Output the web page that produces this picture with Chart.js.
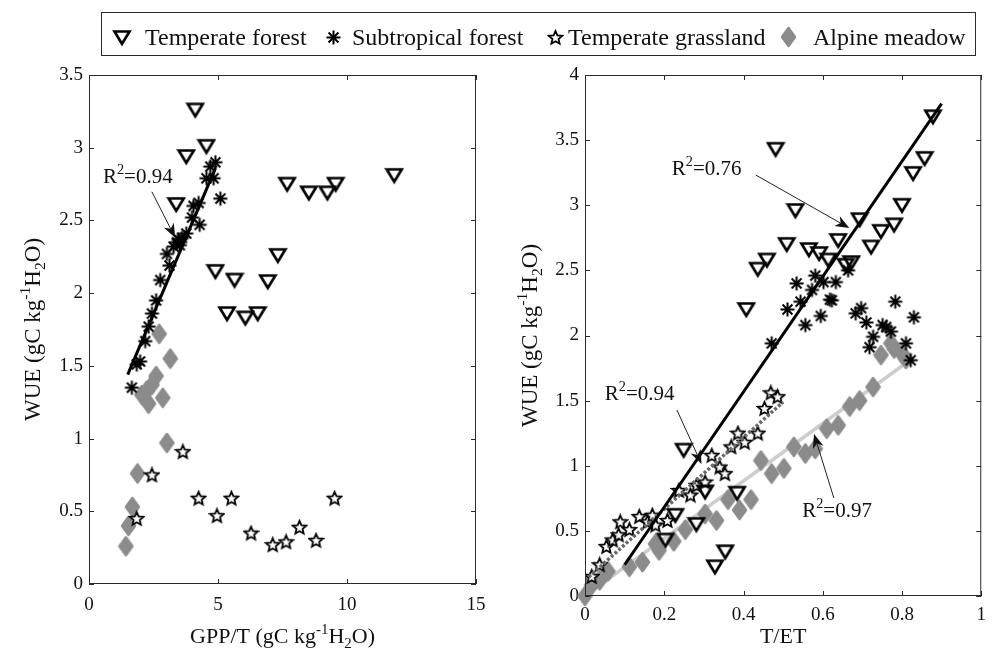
<!DOCTYPE html>
<html>
<head>
<meta charset="utf-8">
<script src="https://cdn.jsdelivr.net/npm/chart.js@4.4.1/dist/chart.umd.min.js"></script>
<style>
    html, body { margin: 0; padding: 0; background: #fff; }
    body { position: relative; width: 994px; height: 651px; overflow: hidden; }
    canvas { position: absolute; top: 0; }
    #left-panel { left: 0; }
    #right-panel { left: 500px; }
    #legend { left: 0; z-index: 2; pointer-events: none; }
</style>
</head>
<body>
<canvas id="left-panel" width="500" height="651"></canvas>
<canvas id="right-panel" width="494" height="651"></canvas>
<canvas id="legend" width="994" height="70"></canvas>
<script>
// ---- data, left panel: WUE vs GPP/T ----
const tfGppX = [4.12, 4.55, 3.77, 3.38, 7.68, 8.52, 9.24, 9.56, 11.83, 7.32, 4.90, 5.64, 6.93, 5.35, 6.06, 6.54];
const tfGppY = [3.26, 3.01, 2.94, 2.61, 2.75, 2.69, 2.69, 2.75, 2.81, 2.26, 2.15, 2.09, 2.08, 1.86, 1.83, 1.86];
const sfGppX = [1.66, 1.85, 1.98, 2.18, 2.31, 2.44, 2.60, 2.76, 3.12, 3.02, 3.28, 3.41, 3.47, 3.52, 3.60, 3.77, 4.29, 3.99, 4.05, 4.25, 4.55, 4.83, 4.70, 4.90, 5.09];
const sfGppY = [1.35, 1.51, 1.53, 1.67, 1.77, 1.86, 1.95, 2.09, 2.19, 2.27, 2.32, 2.35, 2.37, 2.33, 2.38, 2.41, 2.47, 2.52, 2.60, 2.62, 2.79, 2.79, 2.87, 2.90, 2.65];
const tgGppX = [1.85, 2.44, 3.64, 4.25, 4.96, 5.52, 6.28, 7.12, 7.64, 8.16, 8.80, 9.52];
const tgGppY = [0.45, 0.75, 0.91, 0.59, 0.47, 0.59, 0.35, 0.27, 0.29, 0.39, 0.30, 0.59];
const amGppX = [2.72, 3.15, 2.60, 2.44, 2.24, 2.05, 2.31, 2.86, 3.02, 1.88, 1.68, 1.53, 1.43];
const amGppY = [1.72, 1.55, 1.43, 1.37, 1.33, 1.30, 1.24, 1.28, 0.97, 0.76, 0.53, 0.40, 0.26];
const sfGppFitX = [1.5, 4.9];
const sfGppFitY = [1.44, 2.86];

// ---- data, right panel: WUE vs T/ET ----
const tfEtX = [0.878, 0.857, 0.828, 0.800, 0.780, 0.747, 0.722, 0.693, 0.639, 0.672, 0.658, 0.614, 0.591, 0.565, 0.509, 0.459, 0.436, 0.531, 0.481, 0.407, 0.249, 0.303, 0.384, 0.228, 0.281, 0.203, 0.354, 0.328];
const tfEtY = [3.68, 3.36, 3.245, 3.00, 2.85, 2.80, 2.68, 2.89, 2.73, 2.56, 2.54, 2.58, 2.63, 2.66, 2.70, 2.58, 2.51, 2.96, 3.43, 2.20, 1.12, 0.80, 0.79, 0.62, 0.55, 0.43, 0.34, 0.225];
const sfEtX = [0.534, 0.581, 0.573, 0.602, 0.633, 0.618, 0.664, 0.544, 0.511, 0.595, 0.697, 0.683, 0.783, 0.830, 0.556, 0.623, 0.710, 0.727, 0.718, 0.751, 0.760, 0.772, 0.810, 0.822, 0.471];
const sfEtY = [2.40, 2.46, 2.35, 2.41, 2.41, 2.275, 2.50, 2.26, 2.20, 2.15, 2.21, 2.17, 2.26, 2.14, 2.08, 2.27, 2.10, 1.99, 1.91, 2.08, 2.065, 2.03, 1.94, 1.81, 1.94];
const tgEtX = [0.017, 0.037, 0.054, 0.070, 0.085, 0.089, 0.112, 0.137, 0.158, 0.170, 0.178, 0.208, 0.237, 0.266, 0.282, 0.303, 0.320, 0.340, 0.353, 0.369, 0.386, 0.403, 0.436, 0.453, 0.469, 0.486];
const tgEtY = [0.15, 0.24, 0.38, 0.43, 0.47, 0.57, 0.51, 0.61, 0.57, 0.62, 0.545, 0.58, 0.81, 0.775, 0.85, 0.875, 1.08, 0.99, 0.94, 1.145, 1.25, 1.18, 1.25, 1.44, 1.56, 1.53];
const amEtX = [0, 0.017, 0.037, 0.058, 0.112, 0.145, 0.178, 0.187, 0.224, 0.253, 0.303, 0.332, 0.361, 0.390, 0.419, 0.444, 0.471, 0.502, 0.527, 0.556, 0.581, 0.610, 0.639, 0.668, 0.693, 0.727, 0.747, 0.772, 0.780, 0.800, 0.810];
const amEtY = [0, 0.085, 0.12, 0.19, 0.225, 0.26, 0.40, 0.35, 0.42, 0.51, 0.63, 0.58, 0.74, 0.66, 0.74, 1.04, 0.94, 0.98, 1.145, 1.095, 1.13, 1.285, 1.31, 1.455, 1.50, 1.605, 1.85, 1.94, 1.90, 1.86, 1.82];
const tfEtFitX = [0.10, 0.90];
const tfEtFitY = [0.24, 3.78];
const tgEtFitX = [0, 0.50];
const tgEtFitY = [0.12, 1.49];
const amEtFitX = [0, 0.82];
const amEtFitY = [0, 1.81];

const legendLabels = ['Temperate forest', 'Subtropical forest', 'Temperate grassland', 'Alpine meadow'];

// R^2 labels, placed in data units of each panel
const leftNotes = [
    { r2: '0.94', tx: 0.54, ty: 2.757, x0: 2.437, y0: 2.697, x1: 3.342, y1: 2.381 },
];
const rightNotes = [
    { r2: '0.76', tx: 0.219, ty: 3.232, x0: 0.431, y0: 3.232, x1: 0.667, y1: 2.825 },
    { r2: '0.94', tx: 0.050, ty: 1.505, x0: 0.232, y0: 1.428, x1: 0.294, y1: 1.013 },
    { r2: '0.97', tx: 0.548, ty: 0.607, x0: 0.628, y0: 0.752, x1: 0.578, y1: 1.244 },
];

const SERIF = '"Liberation Serif", "Times New Roman", serif';
const GRAY = '#8c8c8c';
const TICK_LEN = 5;

function pts(xs, ys) {
    return xs.map((v, i) => ({ x: v, y: ys[i] }));
}

function markerCanvas(w, h, draw) {
    const c = document.createElement('canvas');
    c.width = w;
    c.height = h;
    draw(c.getContext('2d'), w, h);
    return c;
}

const markers = {
    triangle: markerCanvas(20, 19, (ctx) => {
        ctx.lineWidth = 2.7;
        ctx.strokeStyle = '#000';
        ctx.lineJoin = 'miter';
        ctx.beginPath();
        ctx.moveTo(2.5, 3.5);
        ctx.lineTo(17.5, 3.5);
        ctx.lineTo(10, 16);
        ctx.closePath();
        ctx.stroke();
    }),
    asterisk: markerCanvas(17, 17, (ctx) => {
        ctx.lineWidth = 2;
        ctx.strokeStyle = '#000';
        ctx.beginPath();
        for (let k = 0; k < 4; k++) {
            const a = (k * Math.PI) / 4;
            ctx.moveTo(8.5 - 7 * Math.cos(a), 8.5 - 7 * Math.sin(a));
            ctx.lineTo(8.5 + 7 * Math.cos(a), 8.5 + 7 * Math.sin(a));
        }
        ctx.stroke();
    }),
    star: markerCanvas(17, 17, (ctx) => {
        ctx.lineWidth = 1.8;
        ctx.strokeStyle = '#000';
        ctx.lineJoin = 'miter';
        ctx.beginPath();
        for (let k = 0; k < 10; k++) {
            const r = k % 2 === 0 ? 7 : 3.2;
            const a = -Math.PI / 2 + (k * Math.PI) / 5;
            const px = 8.5 + r * Math.cos(a);
            const py = 9 + r * Math.sin(a);
            if (k === 0) ctx.moveTo(px, py); else ctx.lineTo(px, py);
        }
        ctx.closePath();
        ctx.fillStyle = '#fff';
        ctx.fill();
        ctx.stroke();
    }),
    diamond: markerCanvas(17, 22, (ctx) => {
        ctx.fillStyle = GRAY;
        ctx.strokeStyle = GRAY;
        ctx.lineWidth = 2.5;
        ctx.lineJoin = 'round';
        ctx.beginPath();
        ctx.moveTo(8.5, 2);
        ctx.lineTo(15, 11);
        ctx.lineTo(8.5, 20);
        ctx.lineTo(2, 11);
        ctx.closePath();
        ctx.fill();
        ctx.stroke();
    }),
};

function fmt(v) {
    return String(Math.round(v * 100) / 100);
}

// text with superscript / subscript pieces
function drawRich(ctx, parts, x, y, size, align) {
    const small = size * 0.68;
    const widths = parts.map((p) => {
        ctx.font = `${p.sup || p.sub ? small : size}px ${SERIF}`;
        return ctx.measureText(p.t).width;
    });
    const total = widths.reduce((s, w) => s + w, 0);
    let cx = align === 'center' ? x - total / 2 : x;
    ctx.textAlign = 'left';
    ctx.textBaseline = 'alphabetic';
    parts.forEach((p, i) => {
        ctx.font = `${p.sup || p.sub ? small : size}px ${SERIF}`;
        const dy = p.sup ? -size * 0.42 : p.sub ? size * 0.22 : 0;
        ctx.fillText(p.t, cx, y + dy);
        cx += widths[i];
    });
}

function arrow(ctx, x0, y0, x1, y1) {
    const ang = Math.atan2(y1 - y0, x1 - x0);
    const ux = Math.cos(ang), uy = Math.sin(ang);
    const L = 14, W = 5.5, B = 10;
    ctx.strokeStyle = '#222';
    ctx.lineWidth = 1;
    ctx.beginPath();
    ctx.moveTo(x0, y0);
    ctx.lineTo(x1 - ux * B, y1 - uy * B);
    ctx.stroke();
    ctx.fillStyle = '#111';
    ctx.beginPath();
    ctx.moveTo(x1, y1);
    ctx.lineTo(x1 - ux * L - uy * W, y1 - uy * L + ux * W);
    ctx.lineTo(x1 - ux * B, y1 - uy * B);
    ctx.lineTo(x1 - ux * L + uy * W, y1 - uy * L - ux * W);
    ctx.closePath();
    ctx.fill();
}

const wueTitle = [{ t: 'WUE (gC kg' }, { t: '-1', sup: true }, { t: 'H' }, { t: '2', sub: true }, { t: 'O)' }];
const gppTitle = [{ t: 'GPP/T (gC kg' }, { t: '-1', sup: true }, { t: 'H' }, { t: '2', sub: true }, { t: 'O)' }];
const etTitle = [{ t: 'T/ET' }];

// axes box, inward ticks on all sides, axis titles and R^2 arrows
function decorations(cfg) {
    return {
        id: 'decorations',
        afterDatasetsDraw(chart) {
            const { ctx, chartArea: a, scales: { x, y } } = chart;
            ctx.save();
            ctx.strokeStyle = '#2b2b2b';
            ctx.lineWidth = 1;
            ctx.strokeRect(a.left + 0.5, a.top + 0.5, a.right - a.left - 1, a.bottom - a.top - 1);
            ctx.beginPath();
            x.ticks.forEach((t) => {
                const px = Math.round(x.getPixelForValue(t.value)) + 0.5;
                ctx.moveTo(px, a.bottom);
                ctx.lineTo(px, a.bottom - TICK_LEN);
                ctx.moveTo(px, a.top);
                ctx.lineTo(px, a.top + TICK_LEN);
            });
            y.ticks.forEach((t) => {
                const py = Math.round(y.getPixelForValue(t.value)) + 0.5;
                ctx.moveTo(a.left, py);
                ctx.lineTo(a.left + TICK_LEN, py);
                ctx.moveTo(a.right, py);
                ctx.lineTo(a.right - TICK_LEN, py);
            });
            ctx.stroke();

            cfg.notes.forEach((n) => {
                ctx.fillStyle = '#111';
                drawRich(ctx, [{ t: 'R' }, { t: '2', sup: true }, { t: '=' + n.r2 }],
                    x.getPixelForValue(n.tx), y.getPixelForValue(n.ty), 21, 'left');
                arrow(ctx, x.getPixelForValue(n.x0), y.getPixelForValue(n.y0),
                    x.getPixelForValue(n.x1), y.getPixelForValue(n.y1));
            });

            ctx.fillStyle = '#111';
            drawRich(ctx, cfg.xTitle, (a.left + a.right) / 2, 643, 22, 'center');
            ctx.translate(cfg.yTitleX, (a.top + a.bottom) / 2);
            ctx.rotate(-Math.PI / 2);
            ctx.fillStyle = '#111';
            drawRich(ctx, wueTitle, 0, 23 * 0.33, 23, 'center');
            ctx.restore();
        },
    };
}

function scaleCfg(min, max, step, pad, fit) {
    return {
        type: 'linear',
        min,
        max,
        ticks: {
            stepSize: step,
            padding: pad,
            color: '#111',
            font: { family: SERIF, size: 19 },
            maxRotation: 0,
            autoSkip: false,
            callback: fmt,
        },
        grid: { display: false, drawTicks: false },
        border: { display: false },
        afterFit: fit,
    };
}

function scatterSet(label, data, style, extra) {
    return Object.assign({
        label,
        data,
        pointStyle: style,
        pointRadius: 7,
        showLine: false,
    }, extra || {});
}

function fitSet(data, color, width, dash) {
    return {
        label: 'fit',
        data,
        showLine: true,
        pointRadius: 0,
        borderColor: color,
        borderWidth: width,
        borderDash: dash || [],
        borderCapStyle: 'butt',
        fill: false,
    };
}

const baseOptions = (padRight) => ({
    responsive: false,
    animation: false,
    layout: { padding: { top: 75, right: padRight, left: 0, bottom: 0 } },
    plugins: { legend: { display: false }, tooltip: { enabled: false } },
});

// left panel (first dataset is drawn on top)
new Chart(document.getElementById('left-panel'), {
    type: 'scatter',
    data: {
        datasets: [
            scatterSet(legendLabels[0], pts(tfGppX, tfGppY), markers.triangle),
            fitSet(pts(sfGppFitX, sfGppFitY), '#000', 3),
            scatterSet(legendLabels[1], pts(sfGppX, sfGppY), markers.asterisk),
            scatterSet(legendLabels[2], pts(tgGppX, tgGppY), markers.star),
            scatterSet(legendLabels[3], pts(amGppX, amGppY), markers.diamond),
        ],
    },
    options: Object.assign(baseOptions(24), {
        scales: {
            x: scaleCfg(0, 15, 5, 10, (s) => { s.height = 67; }),
            y: scaleCfg(0, 3.5, 0.5, 6, (s) => { s.width = 89; }),
        },
    }),
    plugins: [decorations({ notes: leftNotes, xTitle: gppTitle, yTitleX: 32 })],
});

// right panel
new Chart(document.getElementById('right-panel'), {
    type: 'scatter',
    data: {
        datasets: [
            scatterSet(legendLabels[0], pts(tfEtX, tfEtY), markers.triangle),
            fitSet(pts(tfEtFitX, tfEtFitY), '#000', 3),
            fitSet(pts(tgEtFitX, tgEtFitY), '#6a6a6a', 3.5, [3, 2]),
            scatterSet(legendLabels[1], pts(sfEtX, sfEtY), markers.asterisk),
            scatterSet(legendLabels[2], pts(tgEtX, tgEtY), markers.star),
            scatterSet(legendLabels[3], pts(amEtX, amEtY), markers.diamond, { clip: false }),
            fitSet(pts(amEtFitX, amEtFitY), '#cdcdcd', 3.5),
        ],
    },
    options: Object.assign(baseOptions(7), {
        scales: {
            x: scaleCfg(0, 1, 0.2, 8, (s) => { s.height = 55; }),
            y: scaleCfg(0, 4, 0.5, 6, (s) => { s.width = 85; }),
        },
    }),
    plugins: [decorations({ notes: rightNotes, xTitle: etTitle, yTitleX: 29 })],
});

// shared legend box across the top
(function drawLegend() {
    const ctx = document.getElementById('legend').getContext('2d');
    ctx.strokeStyle = '#2b2b2b';
    ctx.lineWidth = 1;
    ctx.strokeRect(101.5, 12.5, 874, 43);
    const items = [
        { m: markers.triangle, mx: 122, tx: 145 },
        { m: markers.asterisk, mx: 333, tx: 352 },
        { m: markers.star, mx: 555, tx: 568 },
        { m: markers.diamond, mx: 788, tx: 813 },
    ];
    ctx.font = `24px ${SERIF}`;
    ctx.fillStyle = '#111';
    ctx.textBaseline = 'alphabetic';
    items.forEach((it, i) => {
        ctx.drawImage(it.m, Math.round(it.mx - it.m.width / 2), Math.round(37 - it.m.height / 2));
        ctx.fillText(legendLabels[i], it.tx, 45);
    });
})();
</script>
</body>
</html>
